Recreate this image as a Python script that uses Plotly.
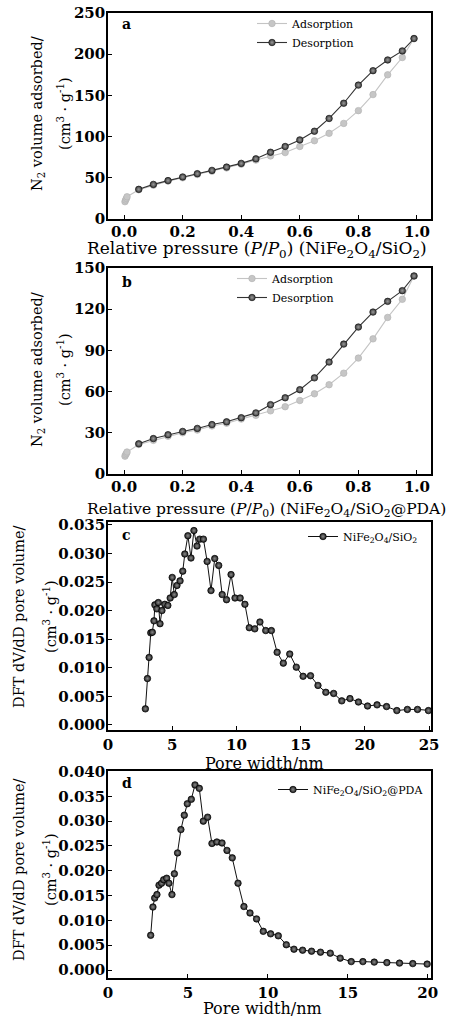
import plotly.graph_objects as go

# ---------------- data ----------------
# Panel a: NiFe2O4/SiO2 isotherm
ads_a_x = [0.003, 0.005, 0.008, 0.01, 0.05, 0.10, 0.15, 0.20, 0.25, 0.30, 0.35, 0.40, 0.45,
           0.50, 0.55, 0.60, 0.65, 0.70, 0.75, 0.80, 0.85, 0.90, 0.95, 0.99]
ads_a_y = [21, 23, 25, 27, 35.5, 41, 46, 50, 54, 58, 62, 66.5, 71.5,
           76.5, 80.6, 88, 95, 104, 116, 131.5, 151, 175, 196, 219]
des_a_x = [0.99, 0.95, 0.90, 0.85, 0.80, 0.75, 0.70, 0.65, 0.60, 0.55, 0.50, 0.45, 0.40,
           0.35, 0.30, 0.25, 0.20, 0.15, 0.10, 0.05]
des_a_y = [219, 204, 193, 180, 162.5, 140.5, 122, 106.5, 96, 88, 81, 73, 67.5,
           63, 59, 55, 51, 46.6, 42, 36]

# Panel b: NiFe2O4/SiO2@PDA isotherm
ads_b_x = [0.003, 0.005, 0.008, 0.01, 0.05, 0.10, 0.15, 0.20, 0.25, 0.30, 0.35, 0.40, 0.45,
           0.50, 0.55, 0.60, 0.65, 0.70, 0.75, 0.80, 0.85, 0.90, 0.95, 0.99]
ads_b_y = [13, 14, 15, 16, 21.5, 24.5, 27.5, 30, 32, 35, 37, 40, 42.7,
           46, 49, 53.5, 58.4, 65, 73.4, 84.4, 98.4, 114, 127.2, 144.2]
des_b_x = [0.99, 0.95, 0.90, 0.85, 0.80, 0.75, 0.70, 0.65, 0.60, 0.55, 0.50, 0.45, 0.40,
           0.35, 0.30, 0.25, 0.20, 0.15, 0.10, 0.05]
des_b_y = [144.2, 133.5, 125.7, 117.9, 107, 94.6, 81.5, 70, 61.4, 55.5, 50.5, 44.5, 41,
           38, 36, 33.2, 31, 28.6, 25.8, 22]

# Panel c: pore size distribution NiFe2O4/SiO2
psd_c_x = [2.91, 3.07, 3.20, 3.33, 3.45, 3.58, 3.65, 3.80, 3.92, 4.05, 4.20, 4.42, 4.66,
           4.84, 5.00, 5.16, 5.37, 5.61, 5.82, 5.98, 6.22, 6.46, 6.69, 6.93, 7.14, 7.43,
           7.72, 8.02, 8.31, 8.62, 8.89, 9.23, 9.58, 9.89, 10.29, 10.66, 11.00, 11.43,
           11.83, 12.28, 12.72, 13.17, 13.65, 14.15, 14.66, 15.19, 15.77, 16.35, 16.96,
           17.57, 18.20, 18.84, 19.50, 20.21, 20.95, 21.69, 22.49, 23.31, 24.10, 24.95, 25.8]
psd_c_y = [0.0028, 0.0081, 0.0118, 0.0161, 0.0162, 0.0182, 0.0210, 0.0203, 0.0214, 0.0177,
           0.0200, 0.0211, 0.0209, 0.0222, 0.0258, 0.0228, 0.0244, 0.0252, 0.0269, 0.0299,
           0.0331, 0.0292, 0.0340, 0.0313, 0.0325, 0.0325, 0.0286, 0.0235, 0.0291, 0.0279,
           0.0228, 0.0219, 0.0263, 0.0222, 0.0222, 0.0211, 0.0170, 0.0168, 0.0180, 0.0165,
           0.0165, 0.0127, 0.0108, 0.0124, 0.0101, 0.0085, 0.0086, 0.0069, 0.0057, 0.0055,
           0.0042, 0.0046, 0.0040, 0.0033, 0.0035, 0.0032, 0.0025, 0.0027, 0.0027, 0.0025,
           0.0024]

# Panel d: pore size distribution NiFe2O4/SiO2@PDA
psd_d_x = [2.67, 2.81, 2.92, 3.06, 3.19, 3.35, 3.48, 3.67, 3.81, 4.00, 4.15, 4.35, 4.56,
           4.77, 4.96, 5.21, 5.44, 5.71, 5.96, 6.23, 6.50, 6.81, 7.13, 7.44, 7.77, 8.13,
           8.50, 8.88, 9.29, 9.71, 10.17, 10.65, 11.15, 11.63, 12.17, 12.73, 13.29, 13.90,
           14.52, 15.21, 15.94, 16.65, 17.44, 18.23, 19.06, 19.96]
psd_d_y = [0.0070, 0.0127, 0.0145, 0.0152, 0.0171, 0.0175, 0.0182, 0.0185, 0.0175, 0.0152,
           0.0194, 0.0236, 0.0283, 0.0312, 0.0335, 0.0344, 0.0373, 0.0366, 0.0300, 0.0308,
           0.0255, 0.0258, 0.0256, 0.0241, 0.0226, 0.0175, 0.0128, 0.0115, 0.0103, 0.0078,
           0.0073, 0.0069, 0.0051, 0.0042, 0.0040, 0.0038, 0.0036, 0.0034, 0.0024, 0.0017,
           0.0017, 0.0016, 0.0015, 0.0014, 0.0013, 0.0012]

# tick / title text
x_titles = ["Relative pressure (<i>P</i>/<i>P</i><sub>0</sub>) (NiFe<sub>2</sub>O<sub>4</sub>/SiO<sub>2</sub>)",
            "Relative pressure (<i>P</i>/<i>P</i><sub>0</sub>) (NiFe<sub>2</sub>O<sub>4</sub>/SiO<sub>2</sub>@PDA)",
            "Pore width/nm", "Pore width/nm"]
y_title_1 = ["N<sub>2</sub> volume adsorbed/", "N<sub>2</sub> volume adsorbed/",
             "DFT dV/dD pore volume/", "DFT dV/dD pore volume/"]
y_title_2 = "(cm<sup>3</sup> · g<sup>-1</sup>)"

W, H = 451, 1020
SERIF = "DejaVu Serif"

# pixel boxes of the four plot areas (left, right, top, bottom)
boxes = [(108, 431, 13, 219), (108, 431, 268, 474), (108, 431, 522, 730), (108, 431, 771, 978)]

def xdom(b):
    return [b[0] / W, b[1] / W]

def ydom(b):
    return [(H - b[3]) / H, (H - b[2]) / H]

def px(x):
    return x / W

def py(y):
    return (H - y) / H

fig = go.Figure()

ads_style = dict(mode="lines+markers", line=dict(color="#c4c4c4", width=1.1),
                 marker=dict(symbol="circle", size=6.5, color="#c6c6c6",
                             line=dict(color="#b4b4b4", width=0.7)))
des_style = dict(mode="lines+markers", line=dict(color="#333333", width=1.1),
                 marker=dict(symbol="circle", size=6.5, color="#3a3a3a",
                             gradient=dict(type="radial", color="#9a9a9a"),
                             line=dict(color="#1a1a1a", width=0.7)))
psd_style = dict(mode="lines+markers", line=dict(color="#111111", width=1.0),
                 marker=dict(symbol="circle", size=6.5, color="#1e1e1e",
                             gradient=dict(type="radial", color="#8a8a8a"),
                             line=dict(color="#000000", width=0.7)))

fig.add_trace(go.Scatter(x=ads_a_x, y=ads_a_y, name="Adsorption", xaxis="x", yaxis="y",
                         legend="legend", **ads_style))
fig.add_trace(go.Scatter(x=des_a_x, y=des_a_y, name="Desorption", xaxis="x", yaxis="y",
                         legend="legend", **des_style))
fig.add_trace(go.Scatter(x=ads_b_x, y=ads_b_y, name="Adsorption", xaxis="x2", yaxis="y2",
                         legend="legend2", **ads_style))
fig.add_trace(go.Scatter(x=des_b_x, y=des_b_y, name="Desorption", xaxis="x2", yaxis="y2",
                         legend="legend2", **des_style))
fig.add_trace(go.Scatter(x=psd_c_x, y=psd_c_y, name="NiFe<sub>2</sub>O<sub>4</sub>/SiO<sub>2</sub>",
                         xaxis="x3", yaxis="y3", legend="legend3", **psd_style))
fig.add_trace(go.Scatter(x=psd_d_x, y=psd_d_y, name="NiFe<sub>2</sub>O<sub>4</sub>/SiO<sub>2</sub>@PDA",
                         xaxis="x4", yaxis="y4", legend="legend4", **psd_style))

tickfont = dict(family=SERIF, size=15, color="#000000", weight="bold")
ytitlefont = dict(family=SERIF, size=14.5, color="#000000")

def axis_common():
    return dict(showline=True, linecolor="#000000", linewidth=1.5, mirror=True,
                ticks="inside", ticklen=4, tickwidth=1.2, tickcolor="#000000",
                showgrid=False, zeroline=False, tickfont=tickfont, automargin=False)

x_ranges = [[-0.055, 1.048], [-0.055, 1.048], [0, 25.15], [0, 20.2]]
x_dticks = [0.2, 0.2, 5, 5]
x_formats = [".1f", ".1f", "d", "d"]
x_standoffs = [-2, -2, 0, 0]
y_ranges = [[0, 250], [0, 150], [-0.0009, 0.0355], [-0.0016, 0.0401]]
y_dticks = [50, 30, 0.005, 0.005]
y_formats = ["d", "d", ".3f", ".3f"]

layout = dict(width=W, height=H, margin=dict(l=0, r=0, t=0, b=0, autoexpand=False),
              paper_bgcolor="white", plot_bgcolor="white",
              font=dict(family=SERIF, color="#000000"))

for i, b in enumerate(boxes):
    sx = "" if i == 0 else str(i + 1)
    xa = axis_common()
    xa.update(domain=xdom(b), anchor="y" + sx, range=x_ranges[i], dtick=x_dticks[i], tick0=0,
              tickformat=x_formats[i], ticklabelstandoff=x_standoffs[i])
    ya = axis_common()
    ya.update(domain=ydom(b), anchor="x" + sx, range=y_ranges[i], dtick=y_dticks[i], tick0=0,
              tickformat=y_formats[i], ticklabelstandoff=-2)
    layout["xaxis" + sx] = xa
    layout["yaxis" + sx] = ya

legfont = dict(family=SERIF, size=11, color="#000000")
leg_common = dict(bgcolor="rgba(0,0,0,0)", borderwidth=0, font=legfont,
                  xanchor="left", yanchor="top", tracegroupgap=0)
layout["legend"] = dict(x=px(252), y=py(9), **leg_common)
layout["legend2"] = dict(x=px(232), y=py(264), **leg_common)
layout["legend3"] = dict(x=px(303), y=py(522), **leg_common)
layout["legend4"] = dict(x=px(273), y=py(775), **leg_common)

fig.update_layout(**layout)

# panel letters
letters = [("a", 120, 24), ("b", 120, 282), ("c", 120, 535), ("d", 120, 783)]
for t, lx, ly in letters:
    fig.add_annotation(text=t, x=px(lx), y=py(ly), xref="paper", yref="paper",
                       xanchor="left", yanchor="middle", showarrow=False,
                       font=dict(family=SERIF, size=14, color="#000000", weight="bold"))

# x-axis titles
xt_pos = [(257, 249, 17), (266, 510, 15.5), (264, 763, 16), (262, 1008, 16)]
for txt, (cx, cy, fs) in zip(x_titles, xt_pos):
    fig.add_annotation(text=txt, x=px(cx), y=py(cy), xref="paper", yref="paper",
                       xanchor="center", yanchor="middle", showarrow=False,
                       font=dict(family=SERIF, size=fs, color="#000000"))

# two-line y-axis titles
yt_pos = [(38, 64, 114), (38, 64, 370), (19, 50, 617), (19, 50, 870)]
for l1, (x1, x2, yc) in zip(y_title_1, yt_pos):
    for txt, lx in ((l1, x1), (y_title_2, x2)):
        fig.add_annotation(text=txt, x=px(lx), y=py(yc), xref="paper", yref="paper",
                           xanchor="center", yanchor="middle", textangle=-90, showarrow=False,
                           font=ytitlefont)

fig.write_html("out.html", config={"displayModeBar": False},
               post_script="document.body.style.margin='0px';")
